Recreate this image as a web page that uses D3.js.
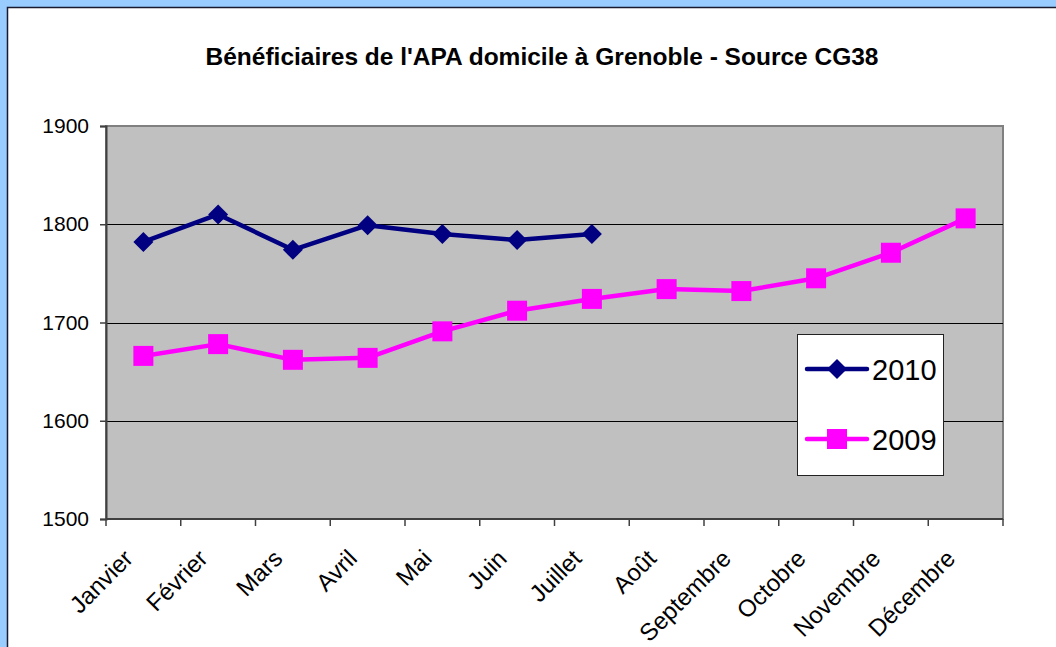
<!DOCTYPE html>
<html>
<head>
<meta charset="utf-8">
<title>Bénéficiaires de l'APA domicile à Grenoble</title>
<script src="https://d3js.org/d3.v7.min.js"></script>
<style>
  body { margin: 0; background: #99ccff; }
  text { font-family: Arial, "Liberation Sans", sans-serif; }
</style>
</head>
<body>
<div id="chart"></div>
<script>
// Data
var months = ["Janvier", "Février", "Mars", "Avril", "Mai", "Juin", "Juillet",
              "Août", "Septembre", "Octobre", "Novembre", "Décembre"];
var values2010 = [1782, 1810, 1774, 1799, 1790, 1784, 1790];
var values2009 = [1666, 1678, 1662, 1664, 1691, 1712, 1724, 1734, 1732, 1745, 1771, 1806];
var yTicks = [1500, 1600, 1700, 1800, 1900];

var width = 1056, height = 647;
var plot = { left: 106, top: 126, right: 1003, bottom: 519 };

var svg = d3.select("#chart").append("svg")
    .attr("width", width)
    .attr("height", height);

// light blue frame + white chart area
svg.append("rect").attr("width", width).attr("height", height).attr("fill", "#99ccff");
svg.append("rect")
    .attr("x", 7.5).attr("y", 7.5)
    .attr("width", width + 10).attr("height", height + 10)
    .attr("fill", "#fff").attr("stroke", "#1a1a2e").attr("stroke-width", 1.5);

var x = d3.scaleBand().domain(months).range([plot.left, plot.right]);
var y = d3.scaleLinear().domain([1500, 1900]).range([plot.bottom, plot.top]);

// plot area
svg.append("rect")
    .attr("x", plot.left).attr("y", plot.top)
    .attr("width", plot.right - plot.left).attr("height", plot.bottom - plot.top)
    .attr("fill", "#c0c0c0").attr("stroke", "#808080").attr("stroke-width", 2);

// gridlines
svg.append("g").selectAll("line")
    .data(yTicks.slice(1, -1))
    .enter().append("line")
    .attr("x1", plot.left).attr("x2", plot.right)
    .attr("y1", function(d) { return Math.round(y(d)) + 0.5; })
    .attr("y2", function(d) { return Math.round(y(d)) + 0.5; })
    .attr("stroke", "#000").attr("stroke-width", 1);

// y axis
var yAxis = svg.append("g")
    .attr("transform", "translate(" + plot.left + ",0)")
    .call(d3.axisLeft(y).tickValues(yTicks).tickFormat(d3.format("d")).tickSize(6).tickPadding(11));
yAxis.select(".domain").attr("stroke", "#404040").attr("stroke-width", 2);
yAxis.selectAll(".tick line").attr("stroke", "#404040").attr("stroke-width", 1.5);
yAxis.selectAll("text").attr("font-size", 21).attr("fill", "#000")
    .style("font-family", "Arial, 'Liberation Sans', sans-serif");

// x axis: ticks at category boundaries
var xAxis = svg.append("g")
    .attr("transform", "translate(0," + plot.bottom + ")");
xAxis.append("line")
    .attr("x1", plot.left).attr("x2", plot.right)
    .attr("stroke", "#404040").attr("stroke-width", 2);
xAxis.selectAll(".tick")
    .data(months.concat(["end"]))
    .enter().append("line")
    .attr("x1", function(d, i) { return i < months.length ? x(d) : plot.right; })
    .attr("x2", function(d, i) { return i < months.length ? x(d) : plot.right; })
    .attr("y1", 0).attr("y2", 7)
    .attr("stroke", "#404040").attr("stroke-width", 1.5);
xAxis.selectAll(".label")
    .data(months)
    .enter().append("text")
    .attr("transform", function(d) {
        return "translate(" + (x(d) + x.bandwidth() / 2 - 9) + ",41) rotate(-45)";
    })
    .attr("text-anchor", "end")
    .attr("font-size", 24)
    .text(function(d) { return d; });

// title
svg.append("text")
    .attr("x", 542).attr("y", 65)
    .attr("text-anchor", "middle")
    .attr("font-size", 24.5).attr("font-weight", "bold")
    .text("Bénéficiaires de l'APA domicile à Grenoble - Source CG38");

var line = d3.line()
    .x(function(d, i) { return x(months[i]) + x.bandwidth() / 2; })
    .y(function(d) { return y(d); });

// 2010 uses a square turned 45 degrees (diamond), 2009 a plain square
var series = [
    { name: "2010", values: values2010, color: "#000080", size: 200, angle: 45 },
    { name: "2009", values: values2009, color: "#ff00ff", size: 400, angle: 0 }
];

// draw 2009 first so 2010 sits on top
series.slice().reverse().forEach(function(s) {
    var g = svg.append("g");
    g.append("path")
        .attr("d", line(s.values))
        .attr("fill", "none")
        .attr("stroke", s.color)
        .attr("stroke-width", 4.5)
        .attr("stroke-linejoin", "round");
    g.selectAll("path.marker")
        .data(s.values)
        .enter().append("path")
        .attr("class", "marker")
        .attr("transform", function(d, i) {
            return "translate(" + (x(months[i]) + x.bandwidth() / 2) + "," + y(d) + ") rotate(" + s.angle + ")";
        })
        .attr("d", d3.symbol().type(d3.symbolSquare).size(s.size))
        .attr("fill", s.color);
});

// legend
var legend = svg.append("g");
legend.append("rect")
    .attr("x", 797.5).attr("y", 334.5)
    .attr("width", 146).attr("height", 141)
    .attr("fill", "#fff").attr("stroke", "#222").attr("stroke-width", 1);
var items = legend.selectAll("g.item")
    .data(series)
    .enter().append("g")
    .attr("class", "item")
    .attr("transform", function(d, i) { return "translate(0," + (369 + i * 70) + ")"; });
items.append("line")
    .attr("x1", 807).attr("x2", 867)
    .attr("stroke", function(d) { return d.color; })
    .attr("stroke-width", 4.5).attr("stroke-linecap", "round");
items.append("path")
    .attr("transform", function(d) { return "translate(837,0) rotate(" + d.angle + ")"; })
    .attr("d", function(d) { return d3.symbol().type(d3.symbolSquare).size(d.size)(); })
    .attr("fill", function(d) { return d.color; });
items.append("text")
    .attr("x", 872).attr("y", 11)
    .attr("font-size", 29)
    .text(function(d) { return d.name; });
</script>
</body>
</html>
